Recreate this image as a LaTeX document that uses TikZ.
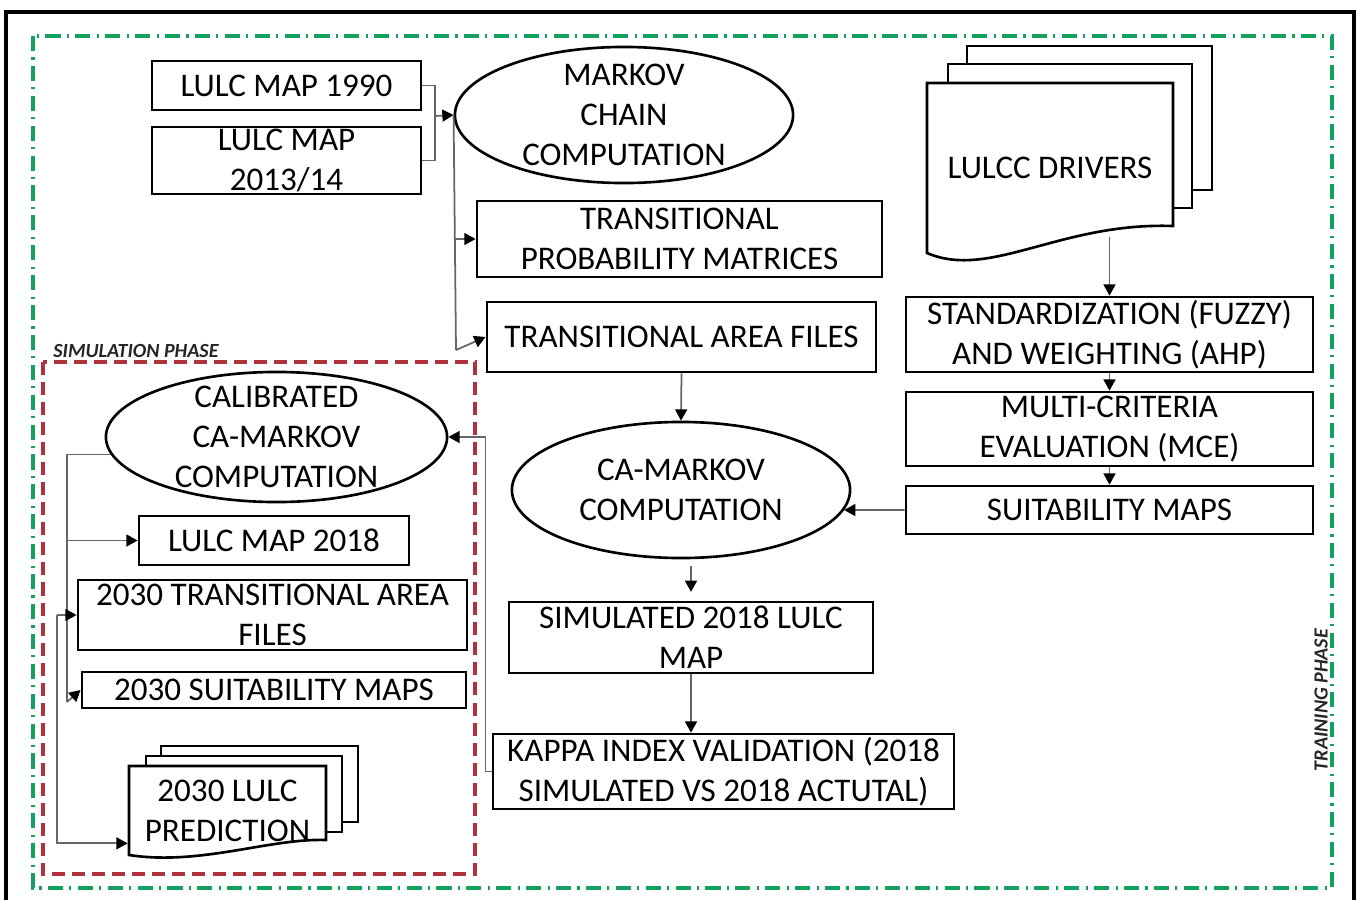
\documentclass[tikz,border=0pt]{standalone}
\usepackage{fontspec}
\setmainfont{Carlito}
\usepackage{xcolor}
\usepackage{tikz}
\usetikzlibrary{shapes,arrows.meta,positioning,calc}

\definecolor{framegreen}{RGB}{20,160,95}
\definecolor{framered}{RGB}{175,50,60}

\begin{document}
\begin{tikzpicture}[x=0.01cm, y=-0.01cm,
    box/.style={draw, line width=0.75pt, rectangle, align=center, inner xsep=0pt, inner ysep=-6pt, font=\fontsize{9.4}{11.4}\selectfont},
    oval/.style={draw, line width=0.75pt, ellipse, align=center, inner sep=-14pt, font=\fontsize{9.4}{11.4}\selectfont},
    page/.style={line width=0.75pt, fill=white},
    conn/.style={line width=0.5pt, draw=black!60},
    arr/.style={conn, -{Triangle[length=3.2pt,width=3.4pt,color=black]}},
    phase/.style={font=\fontsize{5.7}{6}\selectfont\bfseries\itshape, text=black!85}]
    \useasboundingbox (0,0) rectangle (1363,900);

    % Frames
    \draw[line width=0.9pt] (6,12) rectangle (1354,910);
    \draw[framegreen, line width=1pt, dash pattern=on 4.3pt off 1.8pt on 0.6pt off 1.8pt] (33,36) rectangle (1332,888);
    \draw[framered, line width=1pt, dash pattern=on 3.7pt off 2pt] (43,362) rectangle (475,874);
    \node[phase] (simlabel) at (136,351) {SIMULATION PHASE};
    \node[phase, rotate=90] (trainlabel) at (1321,700) {TRAINING PHASE};

    % Document stacks
    \draw[page] (967,64) -- (967,46) -- (1212,46) -- (1212,190) -- (1192,190);
    \draw[page] (948,83) -- (948,64) -- (1192,64) -- (1192,208) -- (1173,208);
    \draw[page] (927,253) -- (927,83) -- (1173,83) -- (1173,226) .. controls (1060,222) and (990,280) .. cycle;
    \draw[page] (161,756) -- (161,746) -- (358,746) -- (358,822) -- (342,822);
    \draw[page] (146,766) -- (146,756) -- (342,756) -- (342,832) -- (326,832);
    \draw[page] (129,855) -- (129,766) -- (326,766) -- (326,840) .. controls (270,838) and (200,866) .. cycle;

    % Training phase
    \node[box, minimum width=2.69cm, minimum height=0.49cm] (lulc90) at (286.5,85.5) {LULC MAP 1990};
    \node[box, minimum width=2.69cm, minimum height=0.67cm] (lulc14) at (286.5,160.5) {LULC MAP\\2013/14};
    \node[oval, minimum width=3.38cm, minimum height=1.36cm] (markov) at (624,115) {MARKOV\\CHAIN\\COMPUTATION};
    \node[box, minimum width=4.05cm, minimum height=0.76cm] (tpm) at (679.5,239) {TRANSITIONAL\\PROBABILITY MATRICES};
    \node[box, minimum width=3.89cm, minimum height=0.70cm] (taf) at (681.5,337) {TRANSITIONAL AREA FILES};
    \node[oval, minimum width=3.38cm, minimum height=1.36cm] (camarkov) at (681,490) {CA-MARKOV\\COMPUTATION};
    \node[box, minimum width=3.64cm, minimum height=0.71cm] (sim18) at (691,637.5) {SIMULATED 2018 LULC\\MAP};
    \node[box, minimum width=4.61cm, minimum height=0.75cm] (kappa) at (723.5,771.5) {KAPPA INDEX VALIDATION (2018\\SIMULATED VS 2018 ACTUTAL)};

    \node[box, draw=none, minimum width=2.46cm, minimum height=1.70cm] (drivers) at (1050,168) {LULCC DRIVERS};
    \node[box, minimum width=4.07cm, minimum height=0.75cm] (stdz) at (1109.5,334.5) {STANDARDIZATION (FUZZY)\\AND WEIGHTING (AHP)};
    \node[box, minimum width=4.07cm, minimum height=0.74cm] (mce) at (1109.5,429) {MULTI-CRITERIA\\EVALUATION (MCE)};
    \node[box, minimum width=4.07cm, minimum height=0.48cm] (suit) at (1109.5,510) {SUITABILITY MAPS};

    % Simulation phase
    \node[oval, minimum width=3.41cm, minimum height=1.30cm] (calib) at (276.5,437) {CALIBRATED\\CA-MARKOV\\COMPUTATION};
    \node[box, minimum width=2.70cm, minimum height=0.49cm] (lulc18) at (274,540.5) {LULC MAP 2018};
    \node[box, minimum width=3.89cm, minimum height=0.70cm] (taf30) at (272.5,615) {2030 TRANSITIONAL AREA\\FILES};
    \node[box, minimum width=3.84cm, minimum height=0.36cm] (suit30) at (274,690) {2030 SUITABILITY MAPS};
    \node[box, draw=none, minimum width=1.97cm, minimum height=0.90cm] (pred30) at (227.5,811) {2030 LULC\\PREDICTION};

    % Connectors
    \coordinate (j1) at (435,116);
    \draw[conn] (lulc90.east) -| (j1) |- (lulc14.east);
    \draw[arr] (j1) -- (markov.west);
    \coordinate (j2) at (456,350);
    \draw[conn] (markov.west) -- (j2);
    \draw[arr] (markov.west |- tpm.west) -- (tpm.west);
    \draw[arr] (j2) -- (taf.west);
    \draw[arr] (taf.south) -- (camarkov.north);
    \draw[arr] (suit.west) -- (camarkov.-7);
    \draw[arr, shorten <=2pt, shorten >=2.5pt] (camarkov.south -| sim18.north) -- (sim18.north);
    \draw[arr] (sim18.south) -- (sim18.south |- kappa.north);
    \draw[arr] (kappa.west) -- ++(-6,0) |- (calib.east);

    \draw[arr, shorten <=-0.17cm] (drivers.south -| stdz.north) -- (stdz.north);
    \draw[arr] (stdz.south) -- (mce.north);
    \draw[arr] (mce.south) -- (suit.north);

    \coordinate (j3) at (67,702);
    \draw[conn] (calib.186) -| (j3);
    \draw[arr] (j3) -- (suit30.west);
    \draw[arr] (lulc18.west -| j3) -- (lulc18.west);
    \coordinate (j4) at (57,615);
    \draw[arr] (j4) -- (taf30.west);
    \draw[arr] (j4) |- ($(pred30.south west)+(0,-14)$);
\end{tikzpicture}
\end{document}
